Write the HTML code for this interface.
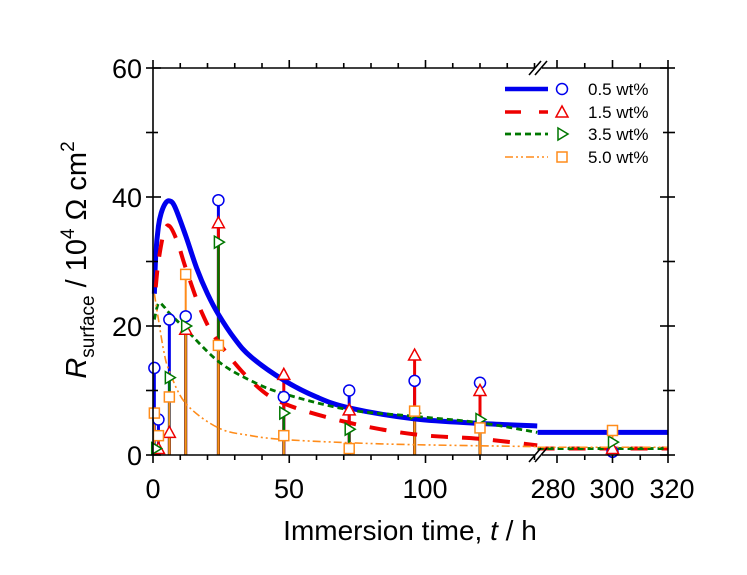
<!DOCTYPE html>
<html><head><meta charset="utf-8"><style>
body{margin:0;background:#fff}
svg{display:block;font-family:"Liberation Sans",Arial,sans-serif}
</style></head><body>
<svg id="s" width="747" height="575" viewBox="0 0 747 575" xmlns="http://www.w3.org/2000/svg">
<rect width="747" height="575" fill="#fff"/>
<g id="data"></g>
<g id="axes" stroke="#000" stroke-width="1.6" fill="none"></g>
<g font-size="27" fill="#000">
<text x="142" y="78" text-anchor="end">60</text>
<text x="142" y="207" text-anchor="end">40</text>
<text x="142" y="336" text-anchor="end">20</text>
<text x="142" y="465" text-anchor="end">0</text>
<text x="153" y="498" text-anchor="middle">0</text>
<text x="289" y="498" text-anchor="middle">50</text>
<text x="425" y="498" text-anchor="middle">100</text>
<text x="553" y="498" text-anchor="middle">280</text>
<text x="612" y="498" text-anchor="middle">300</text>
<text x="672" y="498" text-anchor="middle">320</text>
</g>
<text x="410" y="540" font-size="28" text-anchor="middle">Immersion time, <tspan font-style="italic">t</tspan> / h</text>
<text transform="translate(86,260) rotate(-90)" font-size="29" text-anchor="middle"><tspan font-style="italic">R</tspan><tspan font-size="19" dy="8">surface</tspan><tspan dy="-8"> / 10</tspan><tspan font-size="19" dy="-12">4</tspan><tspan dy="12"> Ω cm</tspan><tspan font-size="19" dy="-12">2</tspan></text>
<g font-size="17" fill="#000">
<text x="588" y="95">0.5 wt%</text>
<text x="588" y="118">1.5 wt%</text>
<text x="588" y="140">3.5 wt%</text>
<text x="588" y="163">5.0 wt%</text>
</g>
<g fill="none">
<line x1="505" y1="89" x2="548" y2="89" stroke="#0000ee" stroke-width="4.5"/>
<circle cx="562" cy="89" r="5.5" stroke="#0000ee" stroke-width="1.5"/>
<line x1="505" y1="112" x2="548" y2="112" stroke="#ee0000" stroke-width="3.5" stroke-dasharray="16 18"/>
<path d="M556 117 L562 106 L568 117 Z" stroke="#ee0000" stroke-width="1.5"/>
<line x1="505" y1="134" x2="548" y2="134" stroke="#007700" stroke-width="2.8" stroke-dasharray="6 4"/>
<path d="M558 128 L568 134 L558 140 Z" stroke="#007700" stroke-width="1.5"/>
<line x1="505" y1="157" x2="548" y2="157" stroke="#ff8c1a" stroke-width="1.6" stroke-dasharray="8 3 2 3 2 3"/>
<rect x="557" y="152" width="10" height="10" stroke="#ff8c1a" stroke-width="1.5"/>
</g>
</svg>
<script>
const NS="http://www.w3.org/2000/svg";
function X(t){return t<=150?153+t*2.725:557+(t-280)*2.775;}
function Y(v){return 455-v*6.45;}
function el(p,tag,a){const e=document.createElementNS(NS,tag);for(const k in a)e.setAttribute(k,a[k]);p.appendChild(e);return e;}
const D=document.getElementById('data'),A=document.getElementById('axes');
el(A,'line',{x1:153,y1:455,x2:153,y2:68});
el(A,'line',{x1:668,y1:455,x2:668,y2:68});
el(A,'line',{x1:153,y1:455,x2:535,y2:455});el(A,'line',{x1:542,y1:455,x2:668,y2:455});
el(A,'line',{x1:153,y1:68,x2:535,y2:68});el(A,'line',{x1:542,y1:68,x2:668,y2:68});
for(let v=0;v<=60;v+=10){const L=v%20==0?8:5;el(A,'line',{x1:153,y1:Y(v),x2:153+L,y2:Y(v)});el(A,'line',{x1:668,y1:Y(v),x2:668-L,y2:Y(v)});el(A,'line',{x1:153,y1:Y(v),x2:146,y2:Y(v)});el(A,'line',{x1:668,y1:Y(v),x2:675,y2:Y(v)});}
for(let t=0;t<=140;t+=10){const L=t%50==0?8:5;el(A,'line',{x1:X(t),y1:455,x2:X(t),y2:455+L});el(A,'line',{x1:X(t),y1:68,x2:X(t),y2:68-L});}
for(let t=280;t<=320;t+=10){const L=t%20==0?8:5;el(A,'line',{x1:X(t),y1:455,x2:X(t),y2:455+L});el(A,'line',{x1:X(t),y1:68,x2:X(t),y2:68-L});}
[[529,541],[535,547]].forEach(b=>{el(A,'line',{x1:b[0],y1:462,x2:b[1],y2:448});el(A,'line',{x1:b[0],y1:75,x2:b[1],y2:61});});
function smooth(L){let d='M'+X(L[0][0])+','+Y(L[0][1]);const pts=L.map(p=>[X(p[0]),Y(p[1])]);
for(let i=0;i<pts.length-1;i++){const p0=pts[Math.max(0,i-1)],p1=pts[i],p2=pts[i+1],p3=pts[Math.min(pts.length-1,i+2)];
const c1=[p1[0]+(p2[0]-p0[0])/6,p1[1]+(p2[1]-p0[1])/6],c2=[p2[0]-(p3[0]-p1[0])/6,p2[1]-(p3[1]-p1[1])/6];
d+=` C${c1[0]},${c1[1]} ${c2[0]},${c2[1]} ${p2[0]},${p2[1]}`;}return d;}
const C={
b:{c:"#0000ee",w:5,d:"",L:[[0.5,25],[1,31],[2,35.5],[3,37.5],[4.5,39],[6,39.4],[8,38.5],[12,34],[16,29],[20,25],[24,21.8],[30,18],[36,15.2],[48,11.6],[60,9],[72,7.3],[96,5.6],[120,4.9],[141,4.5]],R:3.5},
r:{c:"#ee0000",w:4,d:"17 14",L:[[1,26],[2,30],[4,34.5],[6,35.5],[9,33],[12,29],[18,22],[24,17.5],[36,11.5],[48,8],[72,5],[96,3.2],[120,2.5],[141,1.5]],R:1},
g:{c:"#007700",w:2.8,d:"6 4",L:[[0.5,21],[2,23.5],[4,23],[6,22],[12,19.5],[24,14.5],[36,11.5],[48,9.5],[72,7],[96,6],[120,5],[141,3.5]],R:1},
o:{c:"#ff8c1a",w:1.6,d:"8 3 2 3 2 3",L:[[0.5,25],[2,21],[4,16],[6,13],[12,8],[24,4.2],[36,3],[48,2.4],[72,1.9],[96,1.6],[141,1.3]],R:1.2}};
const P={
b:[[0.5,13.5],[2,5.5],[6,21],[12,21.5],[24,39.5],[48,9],[72,10],[96,11.5],[120,11.2],[300,0.5]],
r:[[2,1],[6,3.5],[12,19.5],[24,36],[48,12.5],[72,7],[96,15.5],[120,10],[300,1]],
g:[[1,1],[6,12],[12,20],[24,33],[48,6.5],[72,4],[96,6.5],[120,5.5],[300,2]],
o:[[0.5,6.5],[2,3],[6,9],[12,28],[24,17],[48,3],[72,1],[96,6.8],[120,4.2],[300,3.8]]};
const stemW={b:3,r:3,g:2.5,o:2};
['b','r','g','o'].forEach(k=>{P[k].forEach(p=>el(D,'line',{x1:X(p[0]),y1:455,x2:X(p[0]),y2:Y(p[1]),stroke:C[k].c,'stroke-width':stemW[k]}));});
['b','r','g','o'].forEach(k=>{const c=C[k];
el(D,'path',{d:smooth(c.L),fill:'none',stroke:c.c,'stroke-width':c.w,'stroke-dasharray':c.d});
el(D,'line',{x1:X(273),y1:Y(c.R),x2:668,y2:Y(c.R),stroke:c.c,'stroke-width':c.w,'stroke-dasharray':c.d});});
P.b.forEach(p=>el(D,'circle',{cx:X(p[0]),cy:Y(p[1]),r:5.5,fill:'#fff',stroke:'#0000ee','stroke-width':1.5}));
P.r.forEach(p=>{const x=X(p[0]),y=Y(p[1]);el(D,'path',{d:`M${x-6} ${y+5}L${x} ${y-6}L${x+6} ${y+5}Z`,fill:'#fff',stroke:'#ee0000','stroke-width':1.5});});
P.g.forEach(p=>{const x=X(p[0]),y=Y(p[1]);el(D,'path',{d:`M${x-4} ${y-6}L${x+6} ${y}L${x-4} ${y+6}Z`,fill:'#fff',stroke:'#007700','stroke-width':1.5});});
P.o.forEach(p=>el(D,'rect',{x:X(p[0])-5,y:Y(p[1])-5,width:10,height:10,fill:'#fff',stroke:'#ff8c1a','stroke-width':1.5}));
</script>
</body></html>
